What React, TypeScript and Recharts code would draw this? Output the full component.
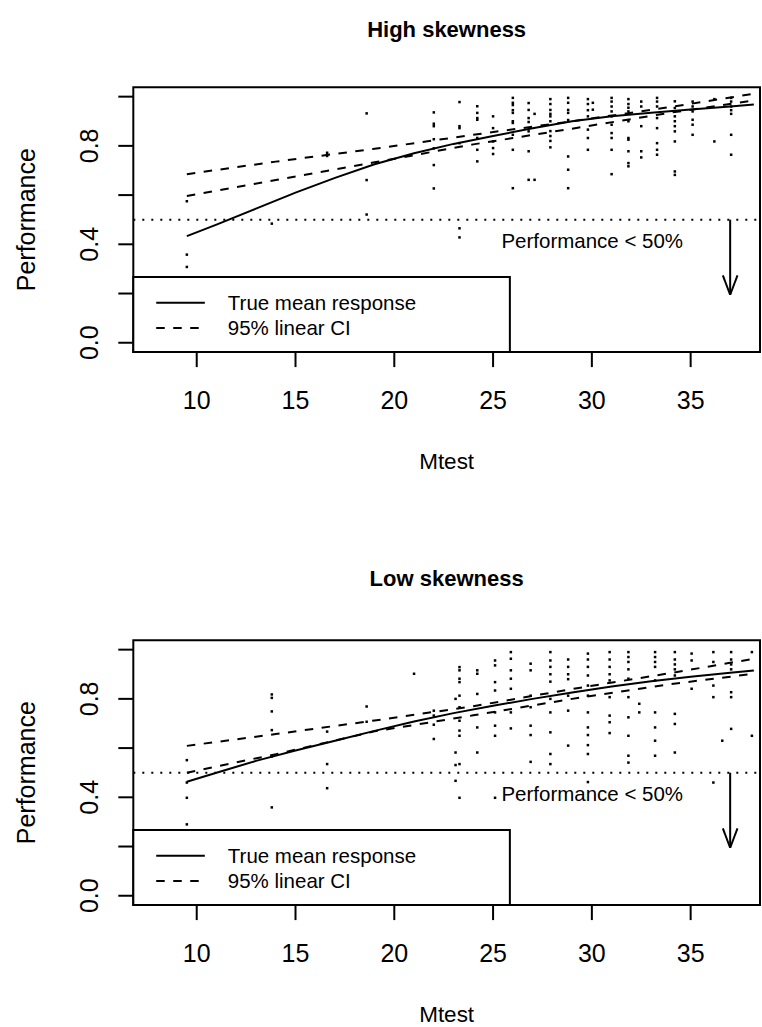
import React from "react"
import {
  ComposedChart,
  XAxis,
  YAxis,
  Scatter,
  Line,
  ReferenceArea,
  ReferenceLine,
  ReferenceDot,
  Label,
} from "recharts"

const FONT = '"Liberation Sans", Arial, Helvetica, sans-serif'

// plot region limits (R pads xlim/ylim by 4%)
const X_MIN = 6.79
const X_MAX = 38.51
const Y_MIN = -0.038
const Y_MAX = 1.038

const X_TICKS = [10, 15, 20, 25, 30, 35]
const Y_TICKS = [0, 0.2, 0.4, 0.6, 0.8, 1]
const Y_LABELED = ["0.0", "0.4", "0.8"]

const TITLES = ["High skewness", "Low skewness"]
const LEGEND_LABELS = ["True mean response", "95% linear CI"]
const NOTE = "Performance < 50%"

// true mean response curve
const MEAN_X = [9.5, 11, 13, 15, 17, 19, 21, 23, 25, 27, 29, 31, 33, 35, 37, 38.2]
const HIGH_MEAN = [0.433, 0.48, 0.545, 0.61, 0.67, 0.725, 0.77, 0.808, 0.84, 0.872, 0.9, 0.92, 0.935, 0.948, 0.96, 0.968]
const LOW_MEAN = [0.463, 0.5, 0.548, 0.59, 0.63, 0.67, 0.708, 0.742, 0.772, 0.8, 0.826, 0.85, 0.872, 0.89, 0.906, 0.915]

// 95% linear CI bounds
const CI_X = [9.5, 14, 19, 24, 29, 34, 38.2]
const HIGH_CI_UP = [0.685, 0.736, 0.788, 0.845, 0.9, 0.958, 1.012]
const HIGH_CI_LO = [0.596, 0.661, 0.733, 0.806, 0.87, 0.935, 0.985]
const LOW_CI_UP = [0.609, 0.657, 0.712, 0.77, 0.84, 0.905, 0.963]
const LOW_CI_LO = [0.5, 0.575, 0.668, 0.733, 0.8, 0.86, 0.902]

// observations, grouped by Mtest value: [Mtest, performances]
const HIGH_POINTS: [number, number[]][] = [
  [9.5, [0.575, 0.358, 0.308]],
  [13.8, [0.484]],
  [16.6, [0.772, 0.759]],
  [18.6, [0.932, 0.661, 0.521]],
  [22.0, [0.936, 0.89, 0.88, 0.827, 0.79, 0.722, 0.627]],
  [23.3, [0.978, 0.88, 0.872, 0.811, 0.465, 0.428]],
  [24.2, [0.961, 0.934, 0.913, 0.906, 0.832, 0.784, 0.737]],
  [25.0, [0.92, 0.872, 0.818, 0.791, 0.767]],
  [26.0, [0.995, 0.975, 0.966, 0.945, 0.934, 0.9, 0.893, 0.845, 0.784, 0.628]],
  [26.8, [0.974, 0.946, 0.913, 0.897, 0.859, 0.778, 0.662]],
  [27.1, [0.93, 0.662]],
  [27.9, [0.99, 0.97, 0.946, 0.93, 0.92, 0.9, 0.86, 0.84, 0.82, 0.794]],
  [28.8, [0.995, 0.975, 0.946, 0.934, 0.905, 0.757, 0.703, 0.628]],
  [29.8, [0.99, 0.97, 0.945, 0.92, 0.866, 0.832, 0.784]],
  [30.05, [0.975, 0.947]],
  [31.0, [0.995, 0.98, 0.96, 0.94, 0.92, 0.886, 0.852, 0.832, 0.784, 0.685]],
  [31.85, [0.99, 0.97, 0.955, 0.94, 0.9, 0.832, 0.825, 0.778, 0.73, 0.717]],
  [32.5, [0.98, 0.96, 0.88, 0.778, 0.753]],
  [33.3, [0.995, 0.98, 0.96, 0.913, 0.872, 0.811, 0.784, 0.764]],
  [34.2, [0.981, 0.954, 0.92, 0.9, 0.88, 0.859, 0.818, 0.696, 0.682]],
  [35.1, [0.98, 0.96, 0.94, 0.906, 0.886, 0.845]],
  [36.2, [0.99, 0.818]],
  [37.05, [0.995, 0.98, 0.96, 0.945, 0.93, 0.845, 0.764]],
]

const LOW_POINTS: [number, number[]][] = [
  [9.5, [0.551, 0.46, 0.398, 0.29]],
  [13.8, [0.818, 0.804, 0.749, 0.673, 0.566, 0.359]],
  [16.6, [0.667, 0.535, 0.437]],
  [18.6, [0.769, 0.707]],
  [21.0, [0.902]],
  [22.0, [0.752, 0.732, 0.695, 0.637]],
  [23.1, [0.8, 0.582, 0.531, 0.467]],
  [23.3, [0.929, 0.916, 0.882, 0.868, 0.813, 0.766, 0.711, 0.671, 0.65, 0.535, 0.398]],
  [24.2, [0.916, 0.902, 0.82, 0.684, 0.582]],
  [25.1, [0.956, 0.936, 0.868, 0.834, 0.745, 0.691, 0.65, 0.398]],
  [25.9, [0.99, 0.963, 0.916, 0.882, 0.841, 0.745, 0.68]],
  [26.9, [0.943, 0.916, 0.813, 0.766, 0.691, 0.653, 0.544]],
  [27.9, [0.99, 0.956, 0.93, 0.9, 0.87, 0.8, 0.745, 0.664, 0.576, 0.535]],
  [28.8, [0.96, 0.93, 0.9, 0.88, 0.813, 0.752, 0.61]],
  [29.8, [0.984, 0.96, 0.93, 0.895, 0.854, 0.813, 0.745, 0.684, 0.653, 0.612, 0.576, 0.462]],
  [30.9, [0.99, 0.96, 0.93, 0.9, 0.875, 0.807, 0.732, 0.705, 0.661]],
  [31.85, [0.99, 0.97, 0.95, 0.92, 0.882, 0.807, 0.725, 0.65, 0.569, 0.541]],
  [32.4, [0.78, 0.745]],
  [33.2, [0.99, 0.97, 0.95, 0.93, 0.875, 0.745, 0.684, 0.63, 0.569]],
  [34.2, [0.99, 0.96, 0.94, 0.92, 0.895, 0.739, 0.698, 0.582]],
  [35.05, [0.984, 0.956, 0.841]],
  [36.15, [0.99, 0.95, 0.854, 0.807, 0.46]],
  [36.6, [0.63]],
  [37.05, [0.99, 0.96, 0.94, 0.92, 0.827, 0.807, 0.678]],
  [38.1, [0.99, 0.65]],
]

const CUTOFF = 0.5
const ARROW_X = 37
const ARROW_TIP = 0.195
const LEGEND_RIGHT = 25.85
const LEGEND_TOP = 0.267

const CHART_W = 762
const CHART_H = 474.4
const PANEL_TOPS = [0, 552.6]
const TITLE_TOPS = [19.4, 15.6]

function toXY(xs: number[], ys: number[]) {
  return xs.map((x, i) => ({ x, y: ys[i] }))
}

function DotShape({ cx, cy }: { cx?: number; cy?: number }) {
  if (cx == null || cy == null) return <g />
  return <rect x={cx - 1.25} y={cy - 1.25} width={2.5} height={2.5} fill="#000" />
}

function YTick({ x, y, payload }: any) {
  const label = Number(payload.value).toFixed(1)
  if (!Y_LABELED.includes(label)) return <g />
  const bx = x - 18
  return (
    <text
      x={bx}
      y={y}
      transform={`rotate(-90 ${bx} ${y})`}
      textAnchor="middle"
      fontSize={25}
      fill="#000"
    >
      {label}
    </text>
  )
}

function YTitle({ viewBox }: any) {
  const bx = (viewBox?.x ?? 0) + 35
  const cy = (viewBox?.y ?? 0) + (viewBox?.height ?? 0) / 2
  return (
    <text
      x={bx}
      y={cy}
      transform={`rotate(-90 ${bx} ${cy})`}
      textAnchor="middle"
      fontSize={25}
      fill="#000"
    >
      Performance
    </text>
  )
}

function Panel({
  title,
  titleTop,
  points,
  mean,
  ciUp,
  ciLo,
  top,
}: {
  title: string
  titleTop: number
  points: [number, number[]][]
  mean: number[]
  ciUp: number[]
  ciLo: number[]
  top: number
}) {
  const pts = points.flatMap(([x, ys]) => ys.map((y) => ({ x, y })))
  const headDx = 0.37
  const headTop = ARROW_TIP + 0.079
  return (
    <div style={{ position: "absolute", left: 0, top, width: CHART_W, height: CHART_H }}>
      <ComposedChart
        width={CHART_W}
        height={CHART_H}
        margin={{ top: 87.3, right: 2, bottom: 0, left: 0 }}
      >
        <XAxis
          type="number"
          dataKey="x"
          domain={[X_MIN, X_MAX]}
          allowDataOverflow
          ticks={X_TICKS}
          interval={0}
          height={122.3}
          axisLine={false}
          stroke="#000"
          tickSize={15}
          tickMargin={24.5}
          tickLine={{ stroke: "#000", strokeWidth: 2 }}
          tick={{ fontSize: 25, fill: "#000" }}
        >
          <Label value="Mtest" position="insideBottom" offset={5} fontSize={22.5} fill="#000" />
        </XAxis>
        <YAxis
          type="number"
          dataKey="y"
          domain={[Y_MIN, Y_MAX]}
          allowDataOverflow
          ticks={Y_TICKS}
          interval={0}
          width={133.3}
          axisLine={false}
          stroke="#000"
          tickSize={15}
          tickLine={{ stroke: "#000", strokeWidth: 2 }}
          tick={<YTick />}
        >
          <Label content={<YTitle />} />
        </YAxis>

        <ReferenceArea
          x1={X_MIN}
          x2={X_MAX}
          y1={Y_MIN}
          y2={Y_MAX}
          fill="none"
          stroke="#000"
          strokeWidth={2}
        />

        <ReferenceLine y={CUTOFF} stroke="#000" strokeWidth={2} strokeDasharray="2 7" />

        <Scatter
          data={pts}
          dataKey="y"
          shape={<DotShape />}
          isAnimationActive={false}
        />
        <Line
          data={toXY(MEAN_X, mean)}
          dataKey="y"
          type="linear"
          stroke="#000"
          strokeWidth={2}
          dot={false}
          activeDot={false}
          isAnimationActive={false}
        />
        <Line
          data={toXY(CI_X, ciUp)}
          dataKey="y"
          type="linear"
          stroke="#000"
          strokeWidth={2}
          strokeDasharray="8.5 8.5"
          dot={false}
          activeDot={false}
          isAnimationActive={false}
        />
        <Line
          data={toXY(CI_X, ciLo)}
          dataKey="y"
          type="linear"
          stroke="#000"
          strokeWidth={2}
          strokeDasharray="8.5 8.5"
          dot={false}
          activeDot={false}
          isAnimationActive={false}
        />

        <ReferenceDot
          x={30.02}
          y={0.4165}
          r={1}
          fill="none"
          stroke="none"
          label={{ value: NOTE, position: "center", fontSize: 20.5, fill: "#000" }}
        />
        <ReferenceLine
          segment={[{ x: ARROW_X, y: CUTOFF }, { x: ARROW_X, y: ARROW_TIP }]}
          stroke="#000"
          strokeWidth={2}
        />
        <ReferenceLine
          segment={[{ x: ARROW_X - headDx, y: headTop }, { x: ARROW_X, y: ARROW_TIP }]}
          stroke="#000"
          strokeWidth={2}
        />
        <ReferenceLine
          segment={[{ x: ARROW_X + headDx, y: headTop }, { x: ARROW_X, y: ARROW_TIP }]}
          stroke="#000"
          strokeWidth={2}
        />

        <ReferenceArea
          x1={X_MIN}
          x2={LEGEND_RIGHT}
          y1={Y_MIN}
          y2={LEGEND_TOP}
          fill="#fff"
          fillOpacity={1}
          stroke="#000"
          strokeWidth={2}
        />
        <ReferenceLine
          segment={[{ x: 7.95, y: 0.162 }, { x: 10.41, y: 0.162 }]}
          stroke="#000"
          strokeWidth={2}
          label={{ value: LEGEND_LABELS[0], position: "right", offset: 23, fontSize: 20.5, fill: "#000" }}
        />
        <ReferenceLine
          segment={[{ x: 7.95, y: 0.0595 }, { x: 10.41, y: 0.0595 }]}
          stroke="#000"
          strokeWidth={2}
          strokeDasharray="8.5 8.5"
          label={{ value: LEGEND_LABELS[1], position: "right", offset: 23, fontSize: 20.5, fill: "#000" }}
        />
      </ComposedChart>
      <div
        style={{
          position: "absolute",
          left: 133.3,
          top: titleTop,
          width: 626.7,
          textAlign: "center",
          fontSize: 22,
          lineHeight: "22px",
          fontWeight: "bold",
          color: "#000",
        }}
      >
        {title}
      </div>
    </div>
  )
}

export default function App() {
  return (
    <div
      style={{
        position: "absolute",
        left: 0,
        top: 0,
        width: CHART_W,
        height: 1027,
        background: "#fff",
        fontFamily: FONT,
      }}
    >
      <Panel
        title={TITLES[0]}
        titleTop={TITLE_TOPS[0]}
        points={HIGH_POINTS}
        mean={HIGH_MEAN}
        ciUp={HIGH_CI_UP}
        ciLo={HIGH_CI_LO}
        top={PANEL_TOPS[0]}
      />
      <Panel
        title={TITLES[1]}
        titleTop={TITLE_TOPS[1]}
        points={LOW_POINTS}
        mean={LOW_MEAN}
        ciUp={LOW_CI_UP}
        ciLo={LOW_CI_LO}
        top={PANEL_TOPS[1]}
      />
    </div>
  )
}
